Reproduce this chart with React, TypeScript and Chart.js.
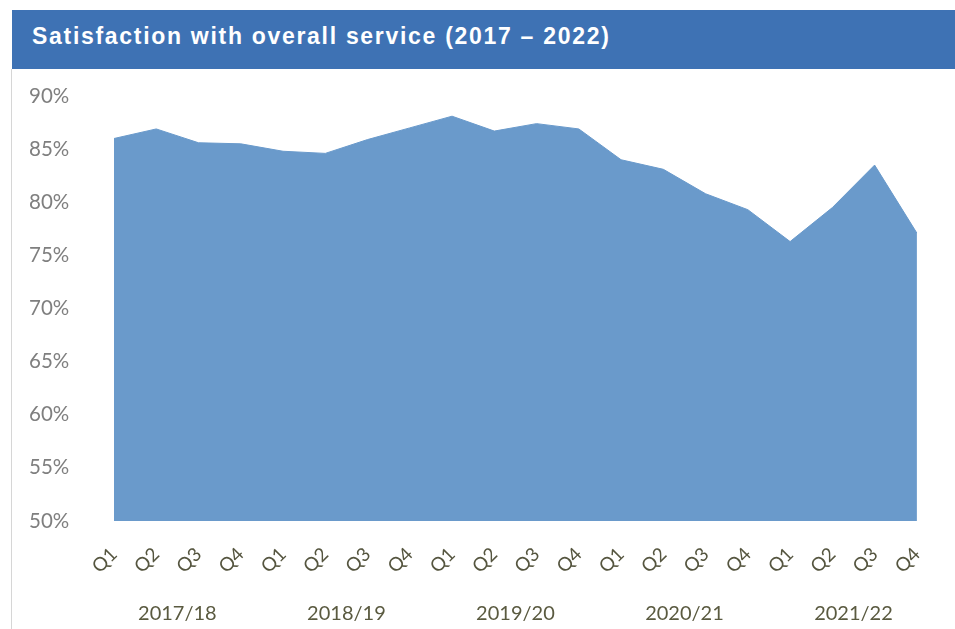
import React, { useEffect, useRef } from "react";
import { Chart, registerables } from "chart.js";

Chart.register(...registerables);

const title = "Satisfaction with overall service (2017 – 2022)";
const quarters = ["Q1", "Q2", "Q3", "Q4", "Q1", "Q2", "Q3", "Q4", "Q1", "Q2", "Q3", "Q4", "Q1", "Q2", "Q3", "Q4", "Q1", "Q2", "Q3", "Q4"];
const satisfaction = [86.0, 86.9, 85.6, 85.5, 84.8, 84.6, 85.9, 87.0, 88.1, 86.7, 87.4, 86.9, 84.0, 83.1, 80.8, 79.3, 76.3, 79.5, 83.5, 77.1];
const yearLabels = ["2017/18", "2018/19", "2019/20", "2020/21", "2021/22"];
const yearCentres = [1.5, 5.5, 9.5, 13.5, 17.5];
const yTicks = [50, 55, 60, 65, 70, 75, 80, 85, 90];

export default function App() {
  const ref = useRef<HTMLCanvasElement | null>(null);

  useEffect(() => {
    if (!ref.current) return;
    const chart = new Chart(ref.current, {
      type: "line",
      data: {
        labels: quarters,
        datasets: [
          {
            data: satisfaction,
            fill: "start",
            backgroundColor: "#6a9acb",
            borderColor: "#6a9acb",
            borderWidth: 1,
            pointRadius: 0,
            tension: 0,
          },
        ],
      },
      options: {
        animation: false,
        responsive: false,
        maintainAspectRatio: false,
        layout: { padding: { top: 26, right: 37, left: 17, bottom: 0 } },
        plugins: { legend: { display: false }, tooltip: { enabled: false } },
        scales: {
          x: {
            type: "category",
            position: "bottom",
            grid: { display: false, drawTicks: false },
            border: { display: false },
            ticks: {
              minRotation: 45,
              maxRotation: 45,
              autoSkip: false,
              padding: 22,
              color: "#55553f",
              font: { family: "Lato", size: 19 },
            },
            afterFit: (s: any) => {
              s.height = 62;
            },
          },
          years: {
            type: "linear",
            position: "bottom",
            min: 0,
            max: quarters.length - 1,
            grid: { display: false, drawTicks: false },
            border: { display: false },
            afterBuildTicks: (s: any) => {
              s.ticks = yearCentres.map((v) => ({ value: v }));
            },
            ticks: {
              autoSkip: false,
              maxRotation: 0,
              minRotation: 0,
              padding: 19,
              color: "#5a5a40",
              font: { family: "Lato", size: 20 },
              callback: (v: any) => {
                const i = yearCentres.indexOf(Number(v));
                return i >= 0 ? yearLabels[i] : "";
              },
            },
            afterFit: (s: any) => {
              s.height = 46;
            },
          },
          y: {
            min: 50,
            max: 90,
            grid: { display: false, drawTicks: false },
            border: { display: false },
            afterBuildTicks: (s: any) => {
              s.ticks = yTicks.map((v) => ({ value: v }));
            },
            ticks: {
              padding: 0,
              crossAlign: "far",
              color: "#7f7f7f",
              font: { family: "Lato", size: 20.5 },
              callback: (v: any) => v + "%",
            },
            afterFit: (s: any) => {
              s.width = 85;
            },
          },
        },
      },
    });
    return () => chart.destroy();
  }, []);

  return (
    <div style={{ position: "absolute", left: 0, top: 0, width: 955, height: 629, background: "#fff", overflow: "hidden" }}>
      <div
        style={{
          position: "absolute",
          left: 12,
          top: 10,
          width: 943,
          height: 59,
          background: "#3e72b4",
          color: "#fff",
          fontFamily: "'Liberation Sans', Arial, sans-serif",
          fontWeight: "bold",
          fontSize: 23,
          letterSpacing: "1.7px",
          lineHeight: "53px",
          paddingLeft: 20,
          boxSizing: "border-box",
          whiteSpace: "nowrap",
        }}
      >
        {title}
      </div>
      <div style={{ position: "absolute", left: 11, top: 69, width: 1, height: 560, background: "#d6d6d6" }} />
      <canvas ref={ref} width={943} height={559} style={{ position: "absolute", left: 12, top: 70, width: 943, height: 559 }} />
    </div>
  );
}
